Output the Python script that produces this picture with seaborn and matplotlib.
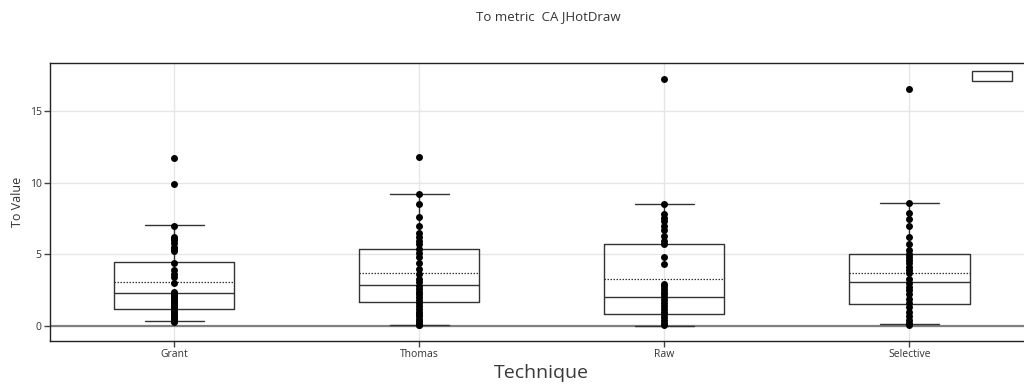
import matplotlib
matplotlib.use("Agg")
import matplotlib.pyplot as plt
import matplotlib.patches as mpatches
import seaborn as sns
import pandas as pd

# ---- data ----
techniques = ["Grant", "Thomas", "Raw", "Selective"]

grant_pts = [11.7, 9.9, 7.0, 6.2, 6.1, 6.0, 5.8, 5.5, 5.4, 5.2, 4.4, 3.9, 3.6, 3.4, 3.0,
             2.35, 2.3, 2.2, 2.1, 2.0, 1.9, 1.8, 1.7, 1.6, 1.5, 1.4, 1.3, 1.2, 1.1, 1.0,
             0.9, 0.8, 0.7, 0.6, 0.5, 0.4, 0.35, 0.3]
thomas_pts = [11.8, 9.2, 8.5, 7.6, 7.0, 6.5, 6.2, 5.9, 5.7, 5.4, 5.1, 4.8, 4.4, 4.0, 3.6,
              3.3, 3.1, 2.8, 2.6, 2.4, 2.2, 2.0, 1.8, 1.6, 1.4, 1.2, 1.0, 0.8, 0.7, 0.5,
              0.35, 0.2, 0.1, 0.05]
raw_pts = [17.2, 8.5, 7.8, 7.5, 7.3, 7.0, 6.7, 6.3, 5.9, 5.7, 4.8, 4.35, 2.9, 2.8, 2.6,
           2.4, 2.2, 2.0, 1.8, 1.6, 1.4, 1.2, 1.0, 0.8, 0.6, 0.4, 0.2, 0.05]
selective_pts = [16.55, 8.6, 7.9, 7.45, 7.0, 6.2, 5.7, 5.3, 5.0, 4.8, 4.6, 4.4, 4.1, 3.9,
                 3.7, 3.3, 3.0, 2.7, 2.5, 2.2, 1.9, 1.6, 1.3, 1.0, 0.7, 0.4, 0.2, 0.1]

q1 = [1.21, 1.67, 0.86, 1.51]
median = [2.28, 2.88, 2.02, 3.05]
q3 = [4.49, 5.40, 5.70, 5.00]
mean = [3.09, 3.67, 3.30, 3.70]
whisker_low = [0.33, 0.07, 0.0, 0.16]
whisker_high = [7.05, 9.23, 8.49, 8.58]

title = "To metric  CA JHotDraw"
ylabel = "To Value"
xlabel = "Technique"

# ---- build ----
all_pts = [grant_pts, thomas_pts, raw_pts, selective_pts]
df = pd.DataFrame({
    "Technique": [t for t, pts in zip(techniques, all_pts) for _ in pts],
    "Value": [v for pts in all_pts for v in pts],
})

sns.set_theme(style="white")
plt.rcParams["font.family"] = ["Open Sans", "DejaVu Sans"]

fig = plt.figure(figsize=(10.24, 3.9), dpi=100)
ax = fig.add_axes([50 / 1024, (390 - 341) / 390, 982 / 1024, (341 - 63) / 390])
ax.set_axisbelow(True)

stats = []
for i, t in enumerate(techniques):
    stats.append(dict(label=t, q1=q1[i], med=median[i], q3=q3[i], mean=mean[i],
                      whislo=whisker_low[i], whishi=whisker_high[i], fliers=[]))

line_c = "#333333"
ax.bxp(stats, positions=range(len(techniques)), widths=0.49, showmeans=True,
       meanline=True, showfliers=False, manage_ticks=False,
       boxprops=dict(color=line_c, linewidth=1.0),
       medianprops=dict(color=line_c, linewidth=1.0),
       whiskerprops=dict(color=line_c, linewidth=1.0),
       capprops=dict(color=line_c, linewidth=1.0),
       meanprops=dict(color=line_c, linewidth=0.9, linestyle=(0, (1.2, 1.2))),
       capwidths=0.24, zorder=3)

sns.stripplot(data=df, x="Technique", y="Value", order=techniques, jitter=False,
              color="black", size=5, ax=ax, zorder=4)

ax.axhline(0, color="#808080", linewidth=1.6, zorder=2)

ax.set_xlim(-0.507, 3.5)
ax.set_ylim(-1.05, 18.35)
ax.set_yticks([0, 5, 10, 15])
ax.set_xticks(range(len(techniques)))
ax.set_xticklabels(techniques)
ax.grid(True, color="#e6e6e6", linewidth=1.0)

for s in ax.spines.values():
    s.set_color("#222222")
    s.set_linewidth(1.0)

ax.tick_params(axis="both", which="both", direction="out", length=4, width=1,
               color="#444444", labelsize=7.5, labelcolor="#333333", pad=2,
               bottom=True, left=True)

ax.set_ylabel(ylabel, fontsize=9, color="#333333", labelpad=4)
ax.set_xlabel(xlabel, fontsize=14, color="#3a3a3a", labelpad=3)

fig.text(548 / 1024, 1 - 17 / 390, title, ha="center", va="center",
         fontsize=9.5, color="#333333")

fig.patches.append(mpatches.Rectangle((972 / 1024, 1 - 80.5 / 390), 39.5 / 1024, 10 / 390,
                                      transform=fig.transFigure, fill=False,
                                      edgecolor="#333333", linewidth=1.0))

fig.savefig("out.png", dpi=100)
